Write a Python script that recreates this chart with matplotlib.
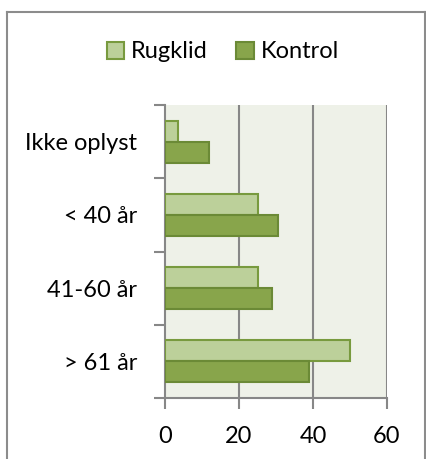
import matplotlib
matplotlib.use("Agg")
import matplotlib.pyplot as plt
import numpy as np
from matplotlib.lines import Line2D

categories = ['Ikke oplyst', '< 40 år', '41-60 år', '> 61 år']
rugklid = [3.5, 25, 25, 50]
kontrol = [12, 30.5, 29, 39]
xticks = [0, 20, 40, 60]

plt.rcParams['font.family'] = ['Lato', 'DejaVu Sans']

fig = plt.figure(figsize=(4.26, 4.59), dpi=100)
ax = fig.add_axes([165/426, 1-398/459, (387-165)/426, (398-105)/459])

y = np.arange(len(categories))
h = 0.2857
c_light, e_light = '#BCD09A', '#789A3E'
c_dark, e_dark = '#88A54B', '#6B8A36'
ax.barh(y - h/2, rugklid, height=h, color=c_light, edgecolor=e_light, linewidth=1.5, label='Rugklid', zorder=3)
ax.barh(y + h/2, kontrol, height=h, color=c_dark, edgecolor=e_dark, linewidth=1.5, label='Kontrol', zorder=3)

ax.set_xlim(0, 60)
ax.set_ylim(len(categories) - 0.5, -0.5)
ax.set_facecolor('#EEF1E8')

grid_c = '#878787'
ax.set_xticks(xticks)
ax.set_xticklabels([str(v) for v in xticks])
for v in xticks[1:]:
    ax.axvline(v, color=grid_c, linewidth=1.5, zorder=1)

ax.set_yticks(np.arange(len(categories) + 1) - 0.5)
ax.set_yticklabels([])
ax.set_yticks(y, minor=True)
ax.set_yticklabels(categories, minor=True)
ax.tick_params(axis='y', which='major', length=8, width=1.5, color=grid_c, direction='out')
ax.tick_params(axis='y', which='minor', length=0, pad=20, labelsize=17)
ax.tick_params(axis='x', length=8, width=1.5, color=grid_c, direction='out', pad=12, labelsize=17)

for s in ['top', 'right']:
    ax.spines[s].set_visible(False)
for s in ['left', 'bottom']:
    ax.spines[s].set_color(grid_c)
    ax.spines[s].set_linewidth(1.5)

fig.legend(loc='center', bbox_to_anchor=(223/426, 1-52/459), ncol=2, frameon=False,
           fontsize=17, handlelength=0.75, handleheight=0.75, handletextpad=0.3,
           columnspacing=1.2, borderpad=0)

fc = '#8C8C8C'
x0, x1 = 7/426, 425/426
y0, y1 = 0, 1 - 12.3/459
fig.add_artist(Line2D([x0, x0], [y0, y1], transform=fig.transFigure, color=fc, linewidth=1.5))
fig.add_artist(Line2D([x0, x1], [y1, y1], transform=fig.transFigure, color=fc, linewidth=1.5))
fig.add_artist(Line2D([x1, x1], [y0, y1], transform=fig.transFigure, color=fc, linewidth=1.5))

fig.savefig('out.png', dpi=100)
